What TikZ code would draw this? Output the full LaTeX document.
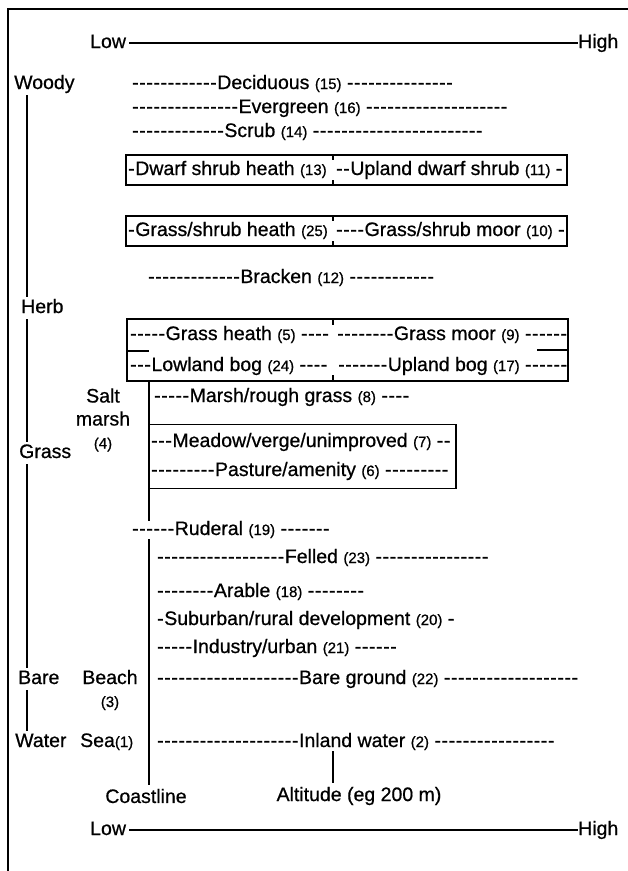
\documentclass[tikz,border=0pt]{standalone}
\usepackage{fontspec}
\setmainfont{Liberation Sans}[FakeBold=0.7]
\usetikzlibrary{positioning}

% a run of hyphens, kept apart so they stay hyphens
\newcommand{\hy}[1]{\foreach\k in {1,...,#1}{-\kern0.6pt}}
\newcommand{\nb}[1]{{\fontsize{15}{15}\selectfont(#1)}}

\begin{document}
\begin{tikzpicture}[
    x=1pt, y=-1pt,
    lbl/.style={anchor=west, inner sep=0pt, text height=14pt, text depth=4pt,
                font=\fontsize{19.5}{23}\selectfont},
    cat/.style={lbl, inner sep=2pt},
    multi/.style={inner sep=0pt, align=center, font=\fontsize{19.5}{23}\selectfont},
    foot/.style={inner sep=4pt, font=\fontsize{19.5}{23}\selectfont},
    panel/.style={draw, line width=1.4pt, inner sep=0pt},
    rule/.style={line width=1.3pt},
    coast/.style={line width=2pt}
]

\useasboundingbox (0,0) rectangle (628,871);

% frame
\draw[line width=1.2pt] (8,871) -- (8,9) -- (628,9);

% altitude scale, top
\node[lbl] (lowT) at (90,43) {Low};
\node[lbl] (highT) at (578,43) {High};
\draw[rule] ([xshift=3pt]lowT.east) -- (highT.west);

% vegetation classes on the left
\coordinate (ax) at (27,0);
\node[cat] (woody) at (12,84) {Woody};
\node[cat] (herb) at (19,308) {Herb};
\node[cat] (grass) at (17,453) {Grass};
\node[cat] (bare) at (16,679) {Bare};
\node[cat] (water) at (13,742) {Water};
\draw[rule] (woody.south -| ax) -- (herb.north -| ax);
\draw[rule] (herb.south -| ax) -- (grass.north -| ax);
\draw[rule] (grass.south -| ax) -- (bare.north -| ax);
\draw[rule] (bare.south -| ax) -- (water.north -| ax);

% woody
\node[lbl] (dec) at (132,84) {\hy{12}Deciduous \nb{15} \hy{15}};
\node[lbl] (evg) at (132,108) {\hy{15}Evergreen \nb{16} \hy{20}};
\node[lbl] (scr) at (132,132) {\hy{13}Scrub \nb{14} \hy{24}};

% heaths and moors
\coordinate (mid) at (333,0);
\node[panel, minimum width=441pt, minimum height=30pt] (dwarf) at (346.5,170) {};
\node[lbl] (dsh) at (128,170) {\hy{1}Dwarf shrub heath \nb{13}};
\node[lbl] (uds) at (336,170) {\hy{2}Upland dwarf shrub \nb{11} \hy{1}};
\draw[panel] (dwarf.north -| mid) -- ++(0,6);
\draw[panel] (dwarf.south -| mid) -- ++(0,-6);

\node[panel, minimum width=441pt, minimum height=30pt] (gshrub) at (346.5,231) {};
\node[lbl] (gsh) at (128,231) {\hy{1}Grass/shrub heath \nb{25}};
\node[lbl] (gsm) at (336,231) {\hy{4}Grass/shrub moor \nb{10} \hy{1}};
\draw[panel] (gshrub.north -| mid) -- ++(0,6);
\draw[panel] (gshrub.south -| mid) -- ++(0,-6);

\node[lbl] (brk) at (148,278) {\hy{13}Bracken \nb{12} \hy{12}};

\node[panel, minimum width=441pt, minimum height=62pt] (bog) at (347.5,350) {};
\node[lbl] (gh) at (130,335) {\hy{5}Grass heath \nb{5} \hy{4}};
\node[lbl] (gm) at (337,335) {\hy{8}Grass moor \nb{9} \hy{6}};
\node[lbl] (lb) at (130,366) {\hy{3}Lowland bog \nb{24} \hy{4}};
\node[lbl] (ub) at (338,366) {\hy{7}Upland bog \nb{17} \hy{6}};
\draw[panel] (bog.north -| mid) -- ++(0,7);
\draw[panel] (bog.south -| mid) -- ++(0,-7);
\draw[panel] ([yshift=-1pt]bog.west) -- ++(23,0);
\draw[panel] (bog.east) -- ++(-32,0);

% grassland
\node[multi] (salt) at (103,420) {Salt\\marsh\\\nb{4}};
\node[lbl] (mrg) at (154,397) {\hy{5}Marsh/rough grass \nb{8} \hy{4}};
\node[panel, minimum width=307pt, minimum height=64pt] (mead) at (302.5,456.5) {};
\node[lbl] (mvu) at (151,442) {\hy{3}Meadow/verge/unimproved \nb{7} \hy{2}};
\node[lbl] (pam) at (151,471) {\hy{9}Pasture/amenity \nb{6} \hy{9}};

% disturbed and bare
\node[lbl] (rud) at (132,530) {\hy{6}Ruderal \nb{19} \hy{7}};
\node[lbl] (fel) at (157,558) {\hy{18}Felled \nb{23} \hy{16}};
\node[lbl] (ara) at (157,592) {\hy{8}Arable \nb{18} \hy{8}};
\node[lbl] (sub) at (157,620) {\hy{1}Suburban/rural development \nb{20} \hy{1}};
\node[lbl] (ind) at (157,648) {\hy{5}Industry/urban \nb{21} \hy{6}};
\node[multi] (beach) at (110,690) {Beach\\\nb{3}};
\node[lbl] (bgr) at (157,679) {\hy{20}Bare ground \nb{22} \hy{19}};

% water
\node[lbl] (sea) at (80,742) {Sea\nb{1}};
\node[lbl] (inl) at (157,742) {\hy{20}Inland water \nb{2} \hy{17}};

% coastline and altitude marks
\coordinate (cx) at (149,0);
\coordinate (tx) at (333,0);
\node[foot] (coastlbl) at (146,796) {Coastline};
\node[foot] (altlbl) at (359,796) {Altitude (eg 200 m)};
\draw[coast] (bog.south -| cx) -- (rud.north -| cx);
\draw[coast] (rud.south -| cx) -- (coastlbl.north -| cx);
\draw[coast] (inl.south -| tx) -- (altlbl.north -| tx);

% altitude scale, bottom
\node[lbl] (lowB) at (90,830) {Low};
\node[lbl] (highB) at (578,830) {High};
\draw[rule] ([xshift=3pt]lowB.east) -- (highB.west);

\end{tikzpicture}
\end{document}
